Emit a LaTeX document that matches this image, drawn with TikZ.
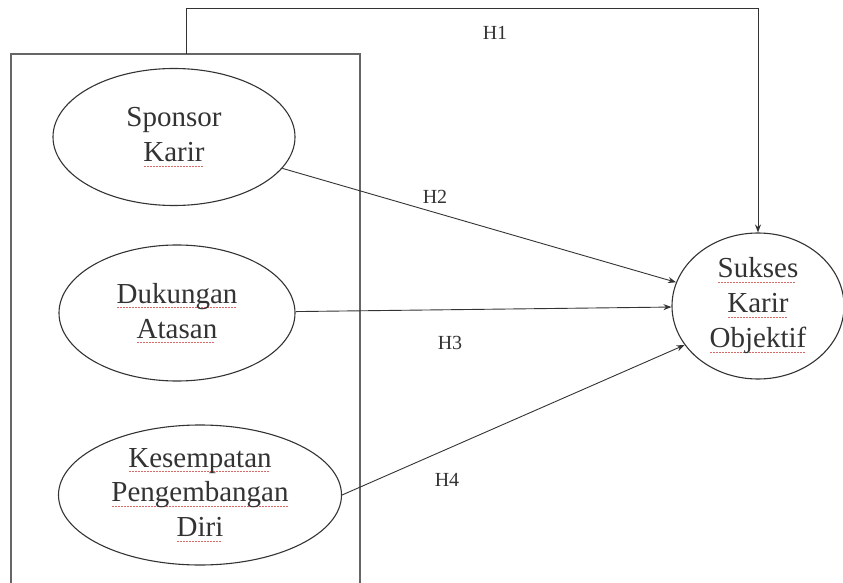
\documentclass[tikz,border=0pt]{standalone}
\usepackage{fontspec}
\setmainfont{Liberation Serif}
\usetikzlibrary{shapes.geometric,arrows.meta}

\definecolor{inkgray}{HTML}{333333}
\definecolor{framegray}{HTML}{666666}
\definecolor{spellred}{HTML}{D86A6A}

% red spell-check mark under a word
\newcommand\spell[1]{\leavevmode\setbox0\hbox{#1}%
    \rlap{\lower5pt\hbox to\wd0{\leaders\hbox to 3pt{\hss\textcolor{spellred}{\rule{1.6pt}{0.9pt}}\hss}\hfill}}\box0}

\begin{document}
\begin{tikzpicture}[x=1pt, y=-1pt,
    every node/.style={align=center, text=inkgray},
    var/.style={draw=inkgray, line width=1.1pt, ellipse, inner sep=0pt,
        font=\fontsize{29}{35}\selectfont},
    hyp/.style={font=\fontsize{20}{24}\selectfont},
    arr/.style={-{Stealth[length=8pt, width=6pt]}, draw=inkgray, line width=0.9pt}]
    \useasboundingbox (0,0) rectangle (843,583);

    % group frame (open at the bottom)
    \draw[framegray, line width=1.4pt] (11,583) -- (11,54) -- (360,54) -- (360,583);

    % independent variables
    \node[var, minimum width=242, minimum height=137] (sponsor) at (174,137)
        {Sponsor\\ \spell{Karir}};
    \node[var, minimum width=236, minimum height=136] (dukungan) at (177,313)
        {\spell{Dukungan}\\ \spell{Atasan}};
    \node[var, minimum width=283, minimum height=140] (kesempatan) at (200,495)
        {\spell{Kesempatan}\\ \spell{Pengembangan}\\ \spell{Diri}};

    % dependent variable
    \node[var, minimum width=172, minimum height=146] (sukses) at (758,306)
        {\spell{Sukses}\\ \spell{Karir}\\ \spell{Objektif}};

    % H1 from the whole group
    \coordinate (grouptop) at (186,54);
    \coordinate (h1corner) at (758,8);
    \draw[arr] (grouptop) -- (grouptop |- h1corner) -- (h1corner) -- (sukses.north);
    \node[hyp] (h1) at (495,33) {H1};

    % H2 - H4
    \draw[arr] (sponsor) -- (sukses);
    \node[hyp] (h2) at (435,197) {H2};
    \draw[arr] (dukungan) -- (sukses);
    \node[hyp] (h3) at (450,343) {H3};
    \draw[arr] (kesempatan.east) -- (sukses.208);
    \node[hyp] (h4) at (447,480) {H4};
\end{tikzpicture}
\end{document}
